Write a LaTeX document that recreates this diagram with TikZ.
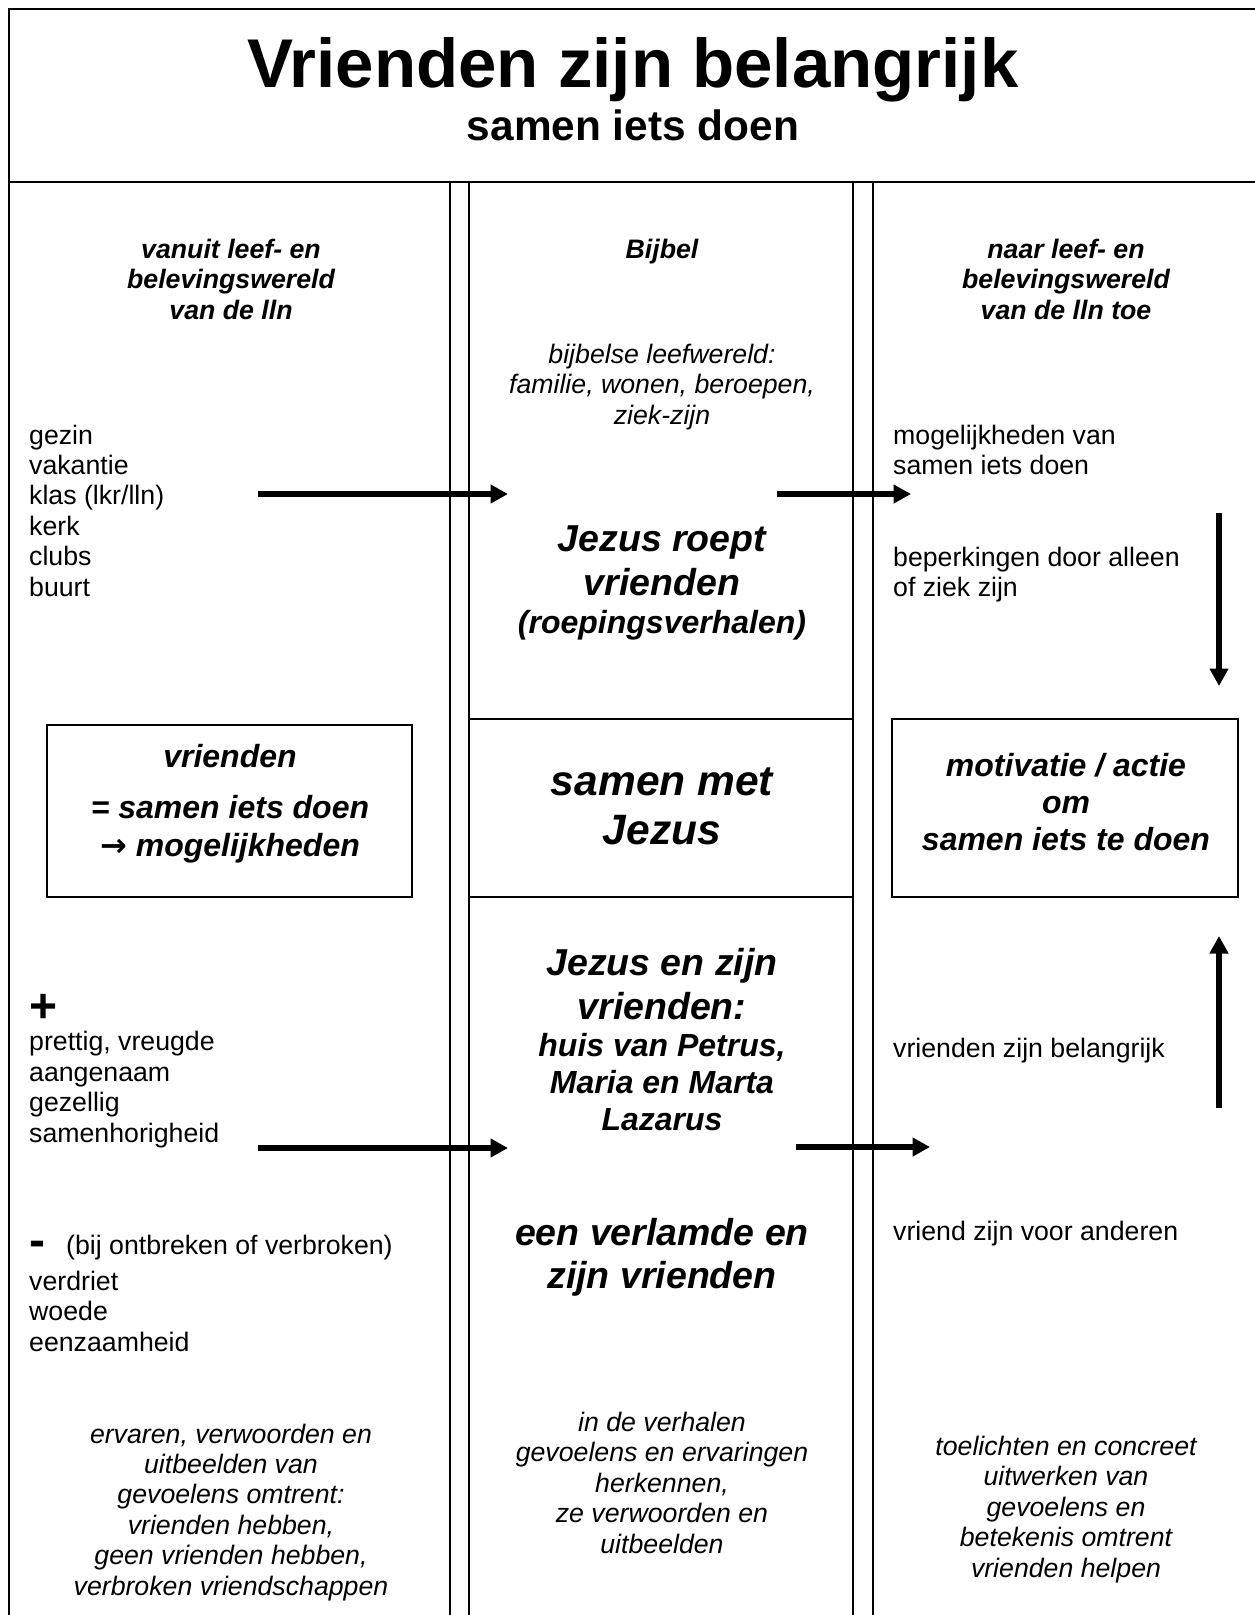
\documentclass[tikz,border=0pt]{standalone}
\usepackage{fontspec}
\setmainfont{Liberation Sans}
\newfontfamily\arrowfont{DejaVu Sans}
\usetikzlibrary{positioning, arrows.meta}

\begin{document}
\begin{tikzpicture}[x=1pt, y=-1pt,
        rule/.style={line width=1.6pt},
        flow/.style={line width=5.5pt, -{Triangle[length=17.5pt, width=18pt]}},
        body/.style={anchor=base west, inner sep=0pt, align=left, font=\fontsize{26.7}{30.4}\selectfont},
        head/.style={anchor=base, inner sep=0pt, align=center, font=\fontsize{26.7}{30.4}\selectfont\bfseries\itshape},
        note/.style={anchor=base, inner sep=0pt, align=center, font=\fontsize{26.7}{30.4}\selectfont\itshape},
        big/.style={anchor=base, inner sep=0pt, align=center, font=\fontsize{37.5}{43.3}\selectfont\bfseries\itshape},
        mid/.style={anchor=base, inner sep=0pt, align=center, font=\fontsize{32}{37}\selectfont\bfseries\itshape}]
        \useasboundingbox (0, 0) rectangle (1254, 1615);

        % frame and columns
        \draw[rule] (9, 1620) -- (9, 9) -- (1260, 9);
        \draw[rule] (9, 182) -- (1260, 182);
        \foreach \x in {450, 469, 853, 873}
            \draw[rule] (\x, 182) -- (\x, 1620);
        \draw[rule] (469, 719) -- (853, 719)
        (469, 897) -- (853, 897);

        % title
        \node[anchor=base, inner sep=0pt, font=\fontsize{69}{80}\selectfont\bfseries] at (633, 87) (title) {Vrienden zijn belangrijk};
        \node[anchor=base, inner sep=0pt, font=\fontsize{42.4}{48}\selectfont\bfseries] at (633, 140) (subtitle) {samen iets doen};

        % column heads (base = last line)
        \node[head] at (231, 319) (hdLeft) {vanuit leef- en\\belevingswereld\\van de lln};
        \node[head] at (662, 258) (hdMid) {Bijbel};
        \node[head] at (1066, 319) (hdRight) {naar leef- en\\belevingswereld\\van de lln toe};

        % left column
        \node[body] at (29, 596) (circles) {gezin\\vakantie\\klas (lkr/lln)\\kerk\\clubs\\buurt};
        \node[draw, rule, minimum width=365pt, minimum height=172pt, inner sep=0pt] at (229.5, 811) (friendsBox) {};
        \node[mid] at (230, 767.5) (friendsHead) {vrienden};
        \node[mid, font=\fontsize{32}{37.6}\selectfont\bfseries\itshape] at (230, 856.5) (friendsBody) {= samen iets doen\\{\arrowfont\bfseries\upshape →} mogelijkheden};
        \node[anchor=base west, inner sep=0pt, font=\fontsize{48}{48}\selectfont\bfseries] at (29, 1022) (plusSign) {+};
        \node[body] at (29, 1142) (pluses) {prettig, vreugde\\aangenaam\\gezellig\\samenhorigheid};
        \node[anchor=base west, inner sep=0pt, font=\fontsize{48}{48}\selectfont\bfseries] at (29, 1256) (minusSign) {-};
        \node[body] at (66, 1254) (minusNote) {(bij ontbreken of verbroken)};
        \node[body] at (29, 1351) (minuses) {verdriet\\woede\\eenzaamheid};
        \node[note] at (231, 1595) (aimLeft) {ervaren, verwoorden en\\uitbeelden van\\gevoelens omtrent:\\vrienden hebben,\\geen vrienden hebben,\\verbroken vriendschappen};

        % middle column
        \node[note] at (662, 424) (bibleWorld) {bijbelse leefwereld:\\familie, wonen, beroepen,\\ziek-zijn};
        \node[big] at (662, 595) (calling) {Jezus roept\\vrienden};
        \node[mid] at (662, 633) (callingSub) {(roepingsverhalen)};
        \node[anchor=base, inner sep=0pt, align=center, font=\fontsize{42.5}{49}\selectfont\bfseries\itshape] at (662, 844) (withJesus) {samen met\\Jezus};
        \node[big] at (662, 1019) (jesusFriends) {Jezus en zijn\\vrienden:};
        \node[mid] at (662, 1130.5) (houses) {huis van Petrus,\\Maria en Marta\\Lazarus};
        \node[big] at (662, 1288.5) (paralysed) {een verlamde en\\zijn vrienden};
        \node[note] at (662, 1553) (aimMid) {in de verhalen\\gevoelens en ervaringen\\herkennen,\\ze verwoorden en\\uitbeelden};

        % right column
        \node[body] at (893, 474.5) (chances) {mogelijkheden van\\samen iets doen};
        \node[body] at (893, 596.5) (limits) {beperkingen door alleen\\of ziek zijn};
        \node[draw, rule, minimum width=346pt, minimum height=178pt, inner sep=0pt] at (1065, 808) (motiveBox) {};
        \node[mid] at (1066, 850) (motive) {motivatie / actie\\om\\samen iets te doen};
        \node[body] at (893, 1057) (important) {vrienden zijn belangrijk};
        \node[body] at (893, 1240) (forOthers) {vriend zijn voor anderen};
        \node[note] at (1066, 1577) (aimRight) {toelichten en concreet\\uitwerken van\\gevoelens en\\betekenis omtrent\\vrienden helpen};

        % arrows
        \coordinate (inTopA) at (258, 494);
        \coordinate (inTopB) at (508, 494);
        \coordinate (outTopA) at (777, 494);
        \coordinate (outTopB) at (911, 494);
        \coordinate (downA) at (1219, 513);
        \coordinate (downB) at (1219, 686);
        \coordinate (upA) at (1219, 1108);
        \coordinate (upB) at (1219, 936);
        \coordinate (inLowA) at (258, 1148);
        \coordinate (inLowB) at (508, 1148);
        \coordinate (outLowA) at (796, 1147);
        \coordinate (outLowB) at (930, 1147);
        \draw[flow] (inTopA) to (inTopB);
        \draw[flow] (outTopA) to (outTopB);
        \draw[flow] (downA) to (downB);
        \draw[flow] (upA) to (upB);
        \draw[flow] (inLowA) to (inLowB);
        \draw[flow] (outLowA) to (outLowB);
    \end{tikzpicture}
\end{document}
